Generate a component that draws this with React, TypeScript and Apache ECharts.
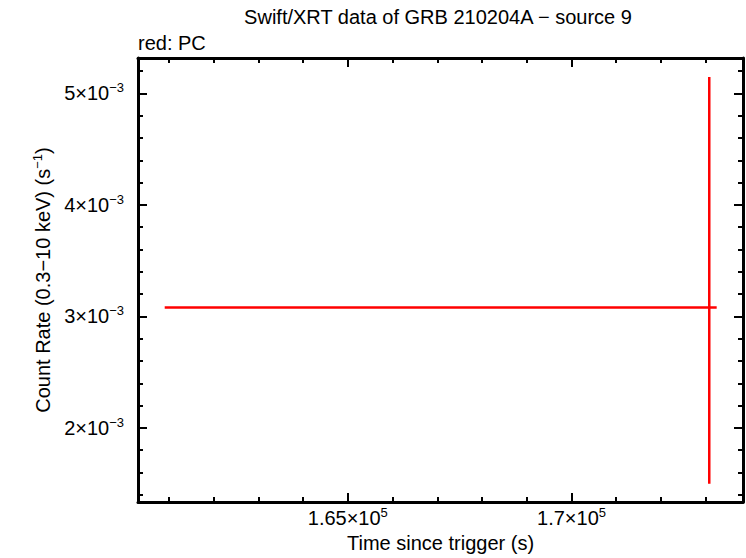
import React, { useEffect, useRef } from "react";
import * as echarts from "echarts";

// ---- data ----
const pointTime = [173079];
const timeErrLow = [160908];
const timeErrHigh = [173245];
const rate = [0.00308];
const rateErrLow = [0.001498];
const rateErrHigh = [0.005148];

// ---- axes ----
const xRange = [160311, 173833];
const yRange = [0.001334, 0.005318];
const xMajorTicks = [165000, 170000];
const xMinorTicks = [161000, 162000, 163000, 164000, 166000, 167000, 168000, 169000, 171000, 172000, 173000];
const yMajorTicks = [0.002, 0.003, 0.004, 0.005];
const yMinorTicks = [0.0014, 0.0016, 0.0018, 0.0022, 0.0024, 0.0026, 0.0028, 0.0032, 0.0034, 0.0036, 0.0038, 0.0042, 0.0044, 0.0046, 0.0048, 0.0052];

const titleText = "Swift/XRT data of GRB 210204A \u2212 source 9";
const subText = "red: PC";
const xName = "Time since trigger (s)";

const FONT = "'Liberation Sans', Arial, Helvetica, sans-serif";
const FS = 20;

const rich = {
  b: { fontFamily: FONT, fontSize: FS, color: "#000", lineHeight: 24 },
  s: { fontFamily: FONT, fontSize: 13, color: "#000", lineHeight: 13, verticalAlign: "top" as const },
};

function xFmt(v: number) {
  const m = Math.round((v / 1e5) * 1000) / 1000;
  return `{b|${m}\u00d710}{s|5}`;
}
function yFmt(v: number) {
  const m = Math.round(v * 1e3 * 1000) / 1000;
  return `{b|${m}\u00d710}{s|\u22123}`;
}

const axisLineStyle = { color: "#000", width: 3 };

function makeX(position: "bottom" | "top", major: boolean, labels: boolean) {
  return {
    type: "value",
    position,
    min: xRange[0],
    max: xRange[1],
    axisLine: { show: major, onZero: false, lineStyle: axisLineStyle },
    axisTick: {
      show: true,
      inside: true,
      length: major ? 9 : 5,
      lineStyle: { color: "#000", width: 2 },
      customValues: major ? xMajorTicks : xMinorTicks,
    },
    axisLabel: labels
      ? { show: true, customValues: xMajorTicks, formatter: xFmt, rich, margin: 4 }
      : { show: false },
    splitLine: { show: false },
    name: labels ? xName : "",
    nameLocation: "middle",
    nameGap: 27,
    nameTextStyle: { fontFamily: FONT, fontSize: FS, color: "#000" },
  };
}

function makeY(position: "left" | "right", major: boolean, labels: boolean) {
  return {
    type: "value",
    position,
    min: yRange[0],
    max: yRange[1],
    axisLine: { show: major, onZero: false, lineStyle: axisLineStyle },
    axisTick: {
      show: true,
      inside: true,
      length: major ? 9 : 5,
      lineStyle: { color: "#000", width: 2 },
      customValues: major ? yMajorTicks : yMinorTicks,
    },
    axisLabel: labels
      ? { show: true, customValues: yMajorTicks, formatter: yFmt, rich, margin: 14 }
      : { show: false },
    splitLine: { show: false },
    name: labels ? "{b|Count Rate (0.3\u221210 keV) (s}{s|\u22121}{b|)}" : "",
    nameLocation: "middle",
    nameGap: 80,
    nameRotate: 90,
    nameTextStyle: { fontFamily: FONT, fontSize: FS, color: "#000", rich },
  };
}

export default function App() {
  const ref = useRef<HTMLDivElement>(null);
  useEffect(() => {
    if (!ref.current) return;
    const chart = echarts.init(ref.current, undefined, { renderer: "svg" });
    const data = pointTime.map((t, i) => [t, rate[i], timeErrLow[i], timeErrHigh[i], rateErrLow[i], rateErrHigh[i]]);
    chart.setOption({
      animation: false,
      backgroundColor: "#fff",
      textStyle: { fontFamily: FONT },
      grid: { left: 138, right: 3, top: 58, bottom: 51, containLabel: false },
      xAxis: [makeX("bottom", true, true), makeX("bottom", false, false), makeX("top", true, false), makeX("top", false, false)],
      yAxis: [makeY("left", true, true), makeY("left", false, false), makeY("right", true, false), makeY("right", false, false)],
      graphic: [
        {
          type: "text",
          x: 438,
          y: 17,
          style: { text: titleText, fontFamily: FONT, fontSize: FS, fill: "#000", textAlign: "center", textVerticalAlign: "middle" },
        },
        {
          type: "text",
          x: 138,
          y: 43,
          style: { text: subText, fontFamily: FONT, fontSize: FS, fill: "#000", textAlign: "left", textVerticalAlign: "middle" },
        },
      ],
      series: [
        {
          type: "custom",
          xAxisIndex: 0,
          yAxisIndex: 0,
          data,
          renderItem: (params: any, api: any) => {
            const x = api.value(0);
            const y = api.value(1);
            const pL = api.coord([api.value(2), y]);
            const pR = api.coord([api.value(3), y]);
            const pB = api.coord([x, api.value(4)]);
            const pT = api.coord([x, api.value(5)]);
            const st = { stroke: "#ff0000", lineWidth: 2.5 };
            return {
              type: "group",
              children: [
                { type: "line", shape: { x1: pL[0], y1: pL[1], x2: pR[0], y2: pR[1] }, style: st },
                { type: "line", shape: { x1: pB[0], y1: pB[1], x2: pT[0], y2: pT[1] }, style: st },
              ],
            };
          },
        },
      ],
    });
    return () => chart.dispose();
  }, []);
  return <div ref={ref} style={{ position: "fixed", left: 0, top: 0, width: 746, height: 558 }} />;
}
